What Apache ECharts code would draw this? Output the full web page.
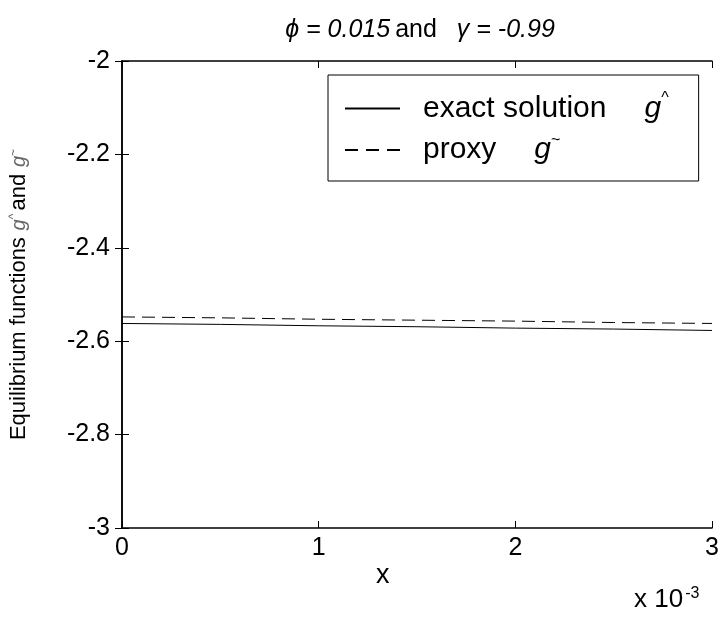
<!DOCTYPE html>
<html>
<head>
<meta charset="utf-8">
<script src="https://cdn.jsdelivr.net/npm/echarts@6/dist/echarts.min.js"></script>
<style>
  html, body { margin: 0; padding: 0; background: #fff; }
  #chart { width: 722px; height: 625px; }
</style>
</head>
<body>
<div id="chart"></div>
<script>
// x in units of 1e-3
const xValues = [0, 0.5, 1, 1.5, 2, 2.5, 3]
const exactValues = [-2.562, -2.564, -2.567, -2.569, -2.572, -2.574, -2.577]
const proxyValues = [-2.548, -2.550, -2.553, -2.555, -2.557, -2.560, -2.562]

const FONT = 'Liberation Sans, Arial, sans-serif'

const chart = echarts.init(document.getElementById('chart'))

const pairs = (ys) => xValues.map((x, i) => [x, ys[i]])

const tickStyle = { show: true, inside: true, length: 7, lineStyle: { color: '#000', width: 1 } }
const lineStyleAxis = { show: true, lineStyle: { color: '#000', width: 1.5 } }

// legend samples: a solid bar and three dashes
const solidIcon = 'path://M0,0h55v2h-55z'
const dashIcon = 'path://M0,0h13v2h-13z M21,0h13v2h-13z M42,0h13v2h-13z'

const option = {
  backgroundColor: '#fff',
  animation: false,
  title: {
    text: '{i|ϕ = 0.015} {n|and}    {i|γ = -0.99}',
    left: 415,
    textAlign: 'center',
    top: 13,
    textStyle: {
      rich: {
        i: { fontFamily: FONT, fontSize: 25, fontStyle: 'italic', fontWeight: 'normal', color: '#000' },
        n: { fontFamily: FONT, fontSize: 25, fontWeight: 'normal', color: '#000' }
      }
    }
  },
  grid: { left: 122, right: 10, top: 61, bottom: 97, outerBoundsMode: 'none' },
  legend: {
    orient: 'vertical',
    left: 328,
    top: 75,
    padding: [16, 30, 16, 17],
    itemGap: 9,
    itemWidth: 55,
    itemHeight: 2,
    borderColor: '#000',
    borderWidth: 1,
    backgroundColor: '#fff',
    data: [
      { name: 'exact', icon: solidIcon },
      { name: 'proxy', icon: dashIcon }
    ],
    formatter: (name) => name === 'exact'
      ? '{p|}{t|exact solution}{q|}{g|g}{s|^}'
      : '{p|}{t|proxy}{q|}{g|g}{s|~}',
    textStyle: {
      rich: {
        p: { width: 18, height: 34 },
        q: { width: 38, height: 34 },
        t: { fontFamily: FONT, fontSize: 30, color: '#000', lineHeight: 35 },
        g: { fontFamily: FONT, fontSize: 30, fontStyle: 'italic', color: '#000', lineHeight: 35 },
        s: { fontFamily: FONT, fontSize: 16, color: '#000', verticalAlign: 'top', padding: [0, 0, 14, 0] }
      }
    }
  },
  xAxis: [
    {
      type: 'value', min: 0, max: 3, interval: 1,
      axisLine: lineStyleAxis, axisTick: tickStyle, splitLine: { show: false },
      axisLabel: { color: '#000', fontFamily: FONT, fontSize: 25, margin: 8 }
    },
    {
      type: 'value', position: 'top', min: 0, max: 3, interval: 1,
      axisLine: lineStyleAxis, axisTick: tickStyle, splitLine: { show: false },
      axisLabel: { show: false }
    }
  ],
  yAxis: [
    {
      type: 'value', min: -3, max: -2, interval: 0.2,
      axisLine: lineStyleAxis, axisTick: tickStyle, splitLine: { show: false },
      axisLabel: {
        color: '#000', fontFamily: FONT, fontSize: 25, margin: 12,
        formatter: (v) => String(+v.toFixed(1))
      },
      name: '{t|Equilibrium functions}  {g|g}{s|^} {t|and}  {g|g}{s|~}',
      nameLocation: 'middle',
      nameGap: 92,
      nameRotate: 90,
      nameTextStyle: {
        rich: {
          t: { fontFamily: FONT, fontSize: 22, color: '#000' },
          g: { fontFamily: FONT, fontSize: 20, fontStyle: 'italic', color: '#666' },
          s: { fontFamily: FONT, fontSize: 12, color: '#666', verticalAlign: 'top', padding: [0, 0, 8, 0] }
        }
      }
    },
    {
      type: 'value', position: 'right', min: -3, max: -2, interval: 0.2,
      axisLine: lineStyleAxis, axisTick: tickStyle, splitLine: { show: false },
      axisLabel: { show: false }
    }
  ],
  graphic: [
    {
      type: 'text', left: 376, top: 562,
      style: { text: 'x', font: '27px ' + FONT, fill: '#000' }
    },
    {
      type: 'text', left: 634, top: 586,
      style: {
        text: '{t|x 10}{s|-3}',
        rich: {
          t: { fontFamily: FONT, fontSize: 26, color: '#000' },
          s: { fontFamily: FONT, fontSize: 16, color: '#000', verticalAlign: 'top', padding: [0, 0, 12, 2] }
        }
      }
    }
  ],
  series: [
    {
      name: 'exact', type: 'line', data: pairs(exactValues),
      symbol: 'none', silent: true,
      lineStyle: { color: '#000', width: 1, type: 'solid' },
      itemStyle: { color: '#000' }
    },
    {
      name: 'proxy', type: 'line', data: pairs(proxyValues),
      symbol: 'none', silent: true,
      lineStyle: { color: '#000', width: 1, type: [13, 7] },
      itemStyle: { color: '#000' }
    }
  ]
}

chart.setOption(option)
</script>
</body>
</html>
